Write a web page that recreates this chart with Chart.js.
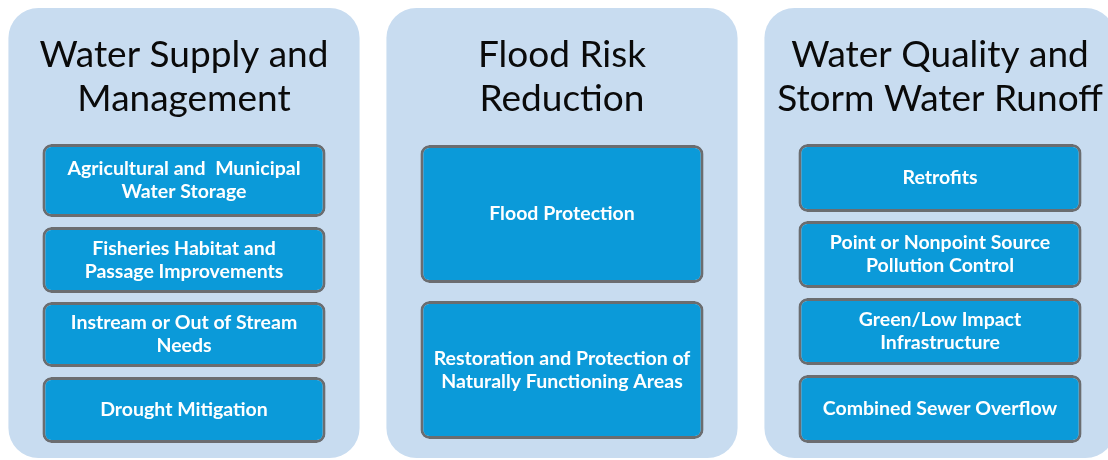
<!DOCTYPE html>
<html>
<head>
<meta charset="utf-8">
<script src="https://cdn.jsdelivr.net/npm/chart.js@4.4.1/dist/chart.umd.min.js"></script>
<style>
  html, body { margin:0; padding:0; background:#fff; overflow:hidden; width:1108px; height:460px; }
  #wrap { position:absolute; left:-5px; top:0; width:1134px; height:460px; }
</style>
</head>
<body>
<div id="wrap"><canvas id="chart" width="1134" height="460"></canvas></div>
<script>
// data
const categories = [
  ["Water Supply and", "Management"],
  ["Flood Risk", "Reduction"],
  ["Water Quality and", "Storm Water Runoff"]
];
const panelSpans = [[8, 458], [8, 458], [8, 458]];

const supplyLabels = [
  ["Agricultural and  Municipal", "Water Storage"],
  ["Fisheries Habitat and", "Passage Improvements"],
  ["Instream or Out of Stream", "Needs"],
  ["Drought Mitigation"]
];
const supplySpans = [[144, 217], [227, 293], [302, 367], [377, 443]];

const floodLabels = [
  ["Flood Protection"],
  ["Restoration and Protection of", "Naturally Functioning Areas"]
];
const floodSpans = [[145, 283], [301, 439]];

const qualityLabels = [
  ["Retrofits"],
  ["Point or Nonpoint Source", "Pollution Control"],
  ["Green/Low Impact", "Infrastructure"],
  ["Combined Sewer Overflow"]
];
const qualitySpans = [[144, 212], [221, 288], [298, 365], [375, 443]];

// styles
const PANEL_BG = "#c8dcf0";
const BOX_BG = "#0b9ad9";
const BOX_EDGE = "#6b6d70";

const colSpans = [supplySpans, floodSpans, qualitySpans];
const colLabels = [supplyLabels, floodLabels, qualityLabels];

// one dataset per row of boxes, overlaid on the panels
const rowSets = [0, 1, 2, 3].map(r => ({
  label: "row " + (r + 1),
  data: colSpans.map(s => s[r] ?? null),
  boxText: colLabels.map(l => l[r] ?? null),
  backgroundColor: BOX_BG,
  borderColor: BOX_EDGE,
  borderWidth: 3,
  borderRadius: 9,
  borderSkipped: false,
  grouped: false,
  barPercentage: 0.749,
  categoryPercentage: 1
}));

const textPlugin = {
  id: "boxText",
  afterDatasetsDraw(chart){
    const ctx = chart.ctx;
    ctx.save();
    ctx.textAlign = "center";
    // panel titles
    const panels = chart.getDatasetMeta(0).data;
    ctx.fillStyle = "#0a0a0a";
    ctx.font = "37px Lato";
    ctx.textBaseline = "alphabetic";
    panels.forEach((el, i) => {
      categories[i].forEach((line, k) => ctx.fillText(line, el.x, 67 + k * 44));
    });
    // box labels
    ctx.fillStyle = "#fff";
    ctx.font = "bold 19.5px Lato";
    ctx.textBaseline = "middle";
    chart.data.datasets.forEach((ds, d) => {
      if(!ds.boxText) return;
      chart.getDatasetMeta(d).data.forEach((el, i) => {
        const lines = ds.boxText[i];
        if(!lines) return;
        const cy = (el.y + el.base) / 2;
        const lh = 23;
        lines.forEach((line, k) => {
          ctx.fillText(line, el.x, cy + (k - (lines.length - 1) / 2) * lh);
        });
      });
    });
    ctx.restore();
  }
};

new Chart(document.getElementById("chart"), {
  type: "bar",
  data: {
    labels: categories.map(c => c.join(" ")),
    datasets: [
      {
        label: "panels",
        data: panelSpans,
        backgroundColor: PANEL_BG,
        borderWidth: 0,
        borderRadius: 30,
        borderSkipped: false,
        grouped: false,
        barPercentage: 0.929,
        categoryPercentage: 1,
        order: 2
      },
      ...rowSets.map(s => ({ ...s, order: 1 }))
    ]
  },
  options: {
    responsive: false,
    animation: false,
    layout: { padding: 0 },
    plugins: { legend: { display: false }, tooltip: { enabled: false } },
    scales: {
      x: { display: false },
      y: { display: false, min: 0, max: 460, reverse: true }
    }
  },
  plugins: [textPlugin]
});
</script>
</body>
</html>
